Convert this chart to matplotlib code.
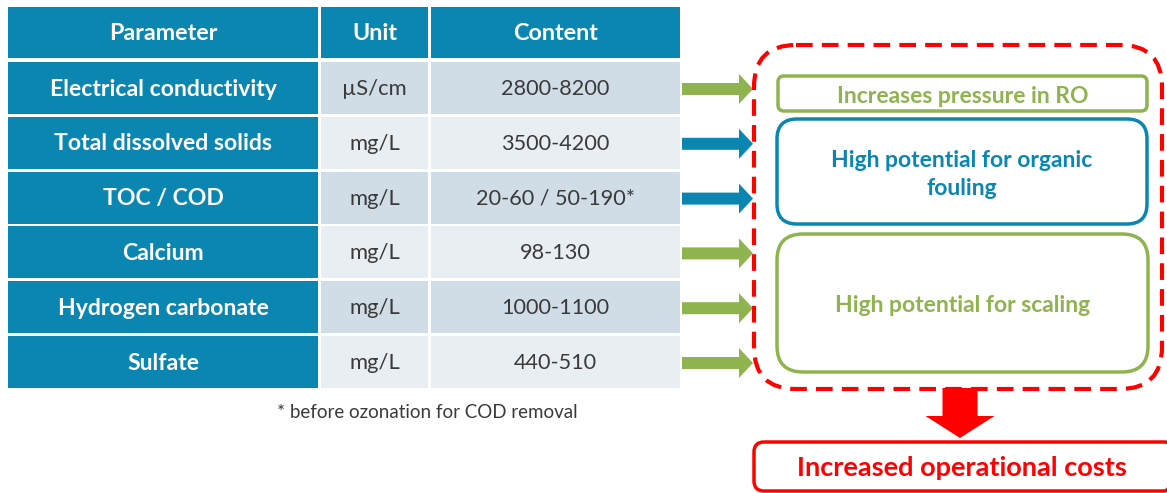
import matplotlib.pyplot as plt
from matplotlib.patches import Rectangle, FancyBboxPatch, FancyArrow

# table content
parameters = ["Electrical conductivity", "Total dissolved solids", "TOC / COD",
              "Calcium", "Hydrogen carbonate", "Sulfate"]
units = ["µS/cm", "mg/L", "mg/L", "mg/L", "mg/L", "mg/L"]
contents = ["2800-8200", "3500-4200", "20-60 / 50-190*", "98-130", "1000-1100", "440-510"]
headers = ["Parameter", "Unit", "Content"]
footnote = "* before ozonation for COD removal"

# which effect each row points to
arrow_kind = ["green", "blue", "blue", "green", "green", "green"]
effects = ["Increases pressure in RO", "High potential for organic\nfouling",
           "High potential for scaling"]
effect_kind = ["green", "blue", "green"]
result = "Increased operational costs"

BLUE = "#0a86b1"
GREEN = "#8fb34f"
RED = "#ff0000"
CELL_DARK = "#d0dde7"
CELL_LIGHT = "#e9eef3"
TEXT = "#3a3a3a"
colors = {"green": GREEN, "blue": BLUE}

plt.rcParams["font.family"] = ["Lato", "DejaVu Sans"]

fig = plt.figure(figsize=(11.67, 4.93), dpi=100)
ax = fig.add_axes([0, 0, 1, 1])
ax.set_xlim(0, 1167)
ax.set_ylim(493, 0)
ax.axis("off")

# -------------------------
# Table
# -------------------------
col_x = [8, 321, 431]
col_w = [310, 107, 249]
head_y, head_h = 7, 51
row_y0, row_step, row_h = 62, 54.8, 52

for x, w, h in zip(col_x, col_w, headers):
    ax.add_patch(Rectangle((x, head_y), w, head_h, color=BLUE, lw=0))
    ax.text(x + w / 2, head_y + head_h / 2 + 1, h, color="white", fontsize=16.8,
            fontweight="bold", ha="center", va="center")

for i, (p, u, c) in enumerate(zip(parameters, units, contents)):
    y = row_y0 + i * row_step
    fill = CELL_DARK if i % 2 == 0 else CELL_LIGHT
    ax.add_patch(Rectangle((col_x[0], y), col_w[0], row_h, color=BLUE, lw=0))
    ax.add_patch(Rectangle((col_x[1], y), col_w[1], row_h, color=fill, lw=0))
    ax.add_patch(Rectangle((col_x[2], y), col_w[2], row_h, color=fill, lw=0))
    yc = y + row_h / 2
    ax.text(col_x[0] + col_w[0] / 2, yc + 1, p, color="white", fontsize=16.6,
            fontweight="bold", ha="center", va="center")
    ax.text(col_x[1] + col_w[1] / 2, yc + 1, u, color=TEXT, fontsize=15.8,
            ha="center", va="center")
    ax.text(col_x[2] + col_w[2] / 2, yc + 1, c, color=TEXT, fontsize=15.6,
            ha="center", va="center")

    # arrow from row to the effects box
    ax.add_patch(FancyArrow(682, yc + 1, 71, 0, width=12, head_width=30,
                            head_length=14, length_includes_head=True,
                            color=colors[arrow_kind[i]], lw=0))

ax.text(427, 412, footnote, color=TEXT, fontsize=13.5, ha="center", va="center")

# -------------------------
# Effects
# -------------------------
ax.add_patch(FancyBboxPatch((754, 45), 408, 344,
                            boxstyle="round,pad=0,rounding_size=42",
                            fill=False, ec=RED, lw=3, ls=(0, (4, 2.2))))

boxes = [(778, 76, 369, 35, 6), (777, 119, 370, 105, 20), (777, 234, 371, 138, 26)]
for (x, y, w, h, r), label, kind in zip(boxes, effects, effect_kind):
    ax.add_patch(FancyBboxPatch((x, y), w, h, boxstyle=f"round,pad=0,rounding_size={r}",
                                fill=False, ec=colors[kind], lw=2.5))
    ax.text(x + w / 2, y + h / 2 + 3, label, color=colors[kind], fontsize=16.5,
            fontweight="bold", ha="center", va="center", linespacing=1.4)

ax.add_patch(FancyArrow(960, 388, 0, 50, width=35, head_width=69,
                        head_length=22, length_includes_head=True,
                        color=RED, lw=0))

ax.add_patch(FancyBboxPatch((754, 442), 420, 49, boxstyle="round,pad=0,rounding_size=10",
                            fill=False, ec=RED, lw=2.5))
ax.text(962, 468, result, color=RED, fontsize=19.5, fontweight="bold",
        ha="center", va="center")

fig.savefig("out.png", dpi=100)
